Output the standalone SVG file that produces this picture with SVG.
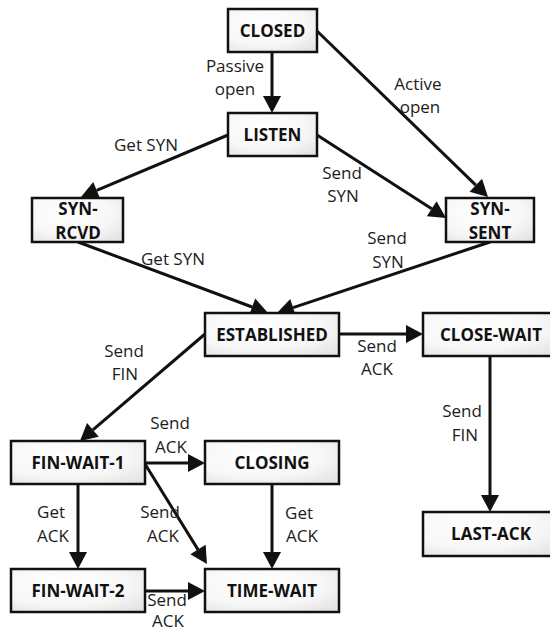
<svg xmlns="http://www.w3.org/2000/svg" width="550" height="632" viewBox="0 0 550 632">
  <style>
    .box { stroke: #111; stroke-width: 2.5; fill: url(#boxFill); }
    .name { font-family: "Open Sans", "Noto Sans", sans-serif; font-weight: bold; font-size: 17px; fill: #111; text-anchor: middle; }
    .lbl { font-family: "Open Sans", "Noto Sans", sans-serif; font-size: 17px; fill: #1c1c1c; text-anchor: middle; }
    .edge { stroke: #111; stroke-width: 3; fill: none; marker-end: url(#head); }
  </style>
  <defs>
    <radialGradient id="boxFill" cx="0.4" cy="0.35" r="0.8">
      <stop offset="0" stop-color="#ffffff"/>
      <stop offset="0.6" stop-color="#f7f7f7"/>
      <stop offset="1" stop-color="#e4e4e4"/>
    </radialGradient>
    <marker id="head" markerUnits="userSpaceOnUse" markerWidth="18" markerHeight="18" refX="0" refY="9" orient="auto" overflow="visible">
      <path d="M0,0 L17,9 L0,18 z" fill="#111"/>
    </marker>
  </defs>

  <rect width="550" height="632" fill="#fff"/>

  <!-- transitions -->
  <g id="connectors">
    <path class="edge" d="M272,52 L272,96"/>
    <path class="edge" d="M317,31 L475.8,185.2"/>
    <path class="edge" d="M228,135 L96.7,190.4"/>
    <path class="edge" d="M317,135 L431.7,208.8"/>
    <path class="edge" d="M78,242 L252.1,307"/>
    <path class="edge" d="M490,242 L293.1,307.6"/>
    <path class="edge" d="M339,334 L406,334"/>
    <path class="edge" d="M205,334 L92.9,429.9"/>
    <path class="edge" d="M490,356 L490,495"/>
    <path class="edge" d="M145,463 L188,463"/>
    <path class="edge" d="M145,464 L198,549.6"/>
    <path class="edge" d="M78,484 L78,552"/>
    <path class="edge" d="M272,484 L272,552"/>
    <path class="edge" d="M145,591 L188,591"/>

    <text class="lbl" x="235" y="72">Passive</text>
    <text class="lbl" x="235" y="95">open</text>
    <text class="lbl" x="418" y="90">Active</text>
    <text class="lbl" x="420" y="113">open</text>
    <text class="lbl" x="146" y="151">Get SYN</text>
    <text class="lbl" x="342" y="179">Send</text>
    <text class="lbl" x="343" y="202">SYN</text>
    <text class="lbl" x="173" y="265">Get SYN</text>
    <text class="lbl" x="387" y="244">Send</text>
    <text class="lbl" x="388" y="268">SYN</text>
    <text class="lbl" x="124" y="357">Send</text>
    <text class="lbl" x="125" y="380">FIN</text>
    <text class="lbl" x="377" y="352">Send</text>
    <text class="lbl" x="377" y="375">ACK</text>
    <text class="lbl" x="462" y="417">Send</text>
    <text class="lbl" x="465" y="441">FIN</text>
    <text class="lbl" x="170" y="429">Send</text>
    <text class="lbl" x="171" y="453">ACK</text>
    <text class="lbl" x="51" y="518">Get</text>
    <text class="lbl" x="53" y="542">ACK</text>
    <text class="lbl" x="160" y="518">Send</text>
    <text class="lbl" x="163" y="542">ACK</text>
    <text class="lbl" x="299" y="519">Get</text>
    <text class="lbl" x="302" y="542">ACK</text>
    <text class="lbl" x="167" y="606">Send</text>
    <text class="lbl" x="168" y="627">ACK</text>
  </g>

  <!-- states -->
  <g id="closed">
    <rect class="box" x="228" y="9" width="89" height="43"/>
    <text class="name" x="272.5" y="37">CLOSED</text>
  </g>
  <g id="listen">
    <rect class="box" x="228" y="113" width="89" height="43"/>
    <text class="name" x="272.5" y="141">LISTEN</text>
  </g>
  <g id="syn-rcvd">
    <rect class="box" x="32" y="198" width="91" height="44"/>
    <text class="name" x="78" y="215">SYN-</text>
    <text class="name" x="78" y="239">RCVD</text>
  </g>
  <g id="syn-sent">
    <rect class="box" x="446" y="198" width="88" height="44"/>
    <text class="name" x="490" y="215">SYN-</text>
    <text class="name" x="490" y="239">SENT</text>
  </g>
  <g id="established">
    <rect class="box" x="205" y="313" width="134" height="43"/>
    <text class="name" x="272" y="341">ESTABLISHED</text>
  </g>
  <g id="close-wait">
    <rect class="box" x="423" y="313" width="136" height="43"/>
    <text class="name" x="491" y="341">CLOSE-WAIT</text>
  </g>
  <g id="fin-wait-1">
    <rect class="box" x="11" y="441" width="134" height="43"/>
    <text class="name" x="78" y="469">FIN-WAIT-1</text>
  </g>
  <g id="closing">
    <rect class="box" x="205" y="441" width="134" height="43"/>
    <text class="name" x="272" y="469">CLOSING</text>
  </g>
  <g id="last-ack">
    <rect class="box" x="423" y="512" width="136" height="44"/>
    <text class="name" x="491" y="540">LAST-ACK</text>
  </g>
  <g id="fin-wait-2">
    <rect class="box" x="11" y="569" width="134" height="43"/>
    <text class="name" x="78" y="597">FIN-WAIT-2</text>
  </g>
  <g id="time-wait">
    <rect class="box" x="205" y="569" width="134" height="43"/>
    <text class="name" x="272" y="597">TIME-WAIT</text>
  </g>
</svg>
